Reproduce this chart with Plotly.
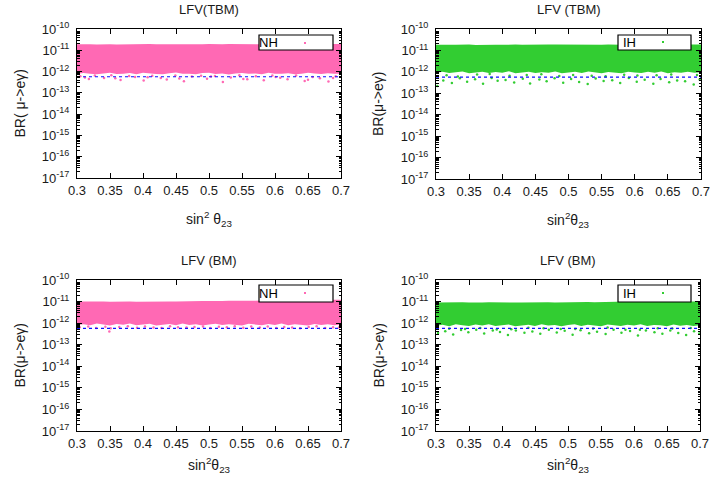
import plotly.graph_objects as go

W, H = 713, 483
FONT = "Liberation Sans, Arial, Helvetica, sans-serif"

# ---------------- data ----------------
X_TICKS = [0.30, 0.35, 0.40, 0.45, 0.50, 0.55, 0.60, 0.65, 0.70]
X_TICK_TEXT = ["0.3", "0.35", "0.4", "0.45", "0.5", "0.55", "0.6", "0.65", "0.7"]
Y_EXPONENTS = [-17, -16, -15, -14, -13, -12, -11, -10]
MEG_BOUND = 5.7e-13

X_GRID = [0.300, 0.310, 0.320, 0.330, 0.340, 0.350, 0.360, 0.370, 0.380, 0.390,
          0.400, 0.410, 0.420, 0.430, 0.440, 0.450, 0.460, 0.470, 0.480, 0.490,
          0.500, 0.510, 0.520, 0.530, 0.540, 0.550, 0.560, 0.570, 0.580, 0.590,
          0.600, 0.610, 0.620, 0.630, 0.640, 0.650, 0.660, 0.670, 0.680, 0.690, 0.700]

# NH, TBM (top left)
NH_TBM_UPPER = [1.90e-11, 1.95e-11, 1.90e-11, 1.88e-11, 1.95e-11, 1.92e-11, 1.86e-11, 1.90e-11, 1.95e-11, 1.90e-11,
                1.88e-11, 1.95e-11, 1.92e-11, 1.90e-11, 1.95e-11, 1.88e-11, 1.90e-11, 1.95e-11, 1.92e-11, 1.90e-11,
                1.95e-11, 1.88e-11, 1.90e-11, 1.95e-11, 1.92e-11, 1.90e-11, 1.95e-11, 1.88e-11, 1.90e-11, 1.95e-11,
                1.92e-11, 1.90e-11, 1.95e-11, 1.88e-11, 1.90e-11, 1.95e-11, 1.92e-11, 1.90e-11, 1.95e-11, 1.90e-11, 1.95e-11]
NH_TBM_LOWER = [7.8e-13, 8.6e-13, 8.0e-13, 7.4e-13, 8.4e-13, 8.9e-13, 7.6e-13, 7.9e-13, 8.5e-13, 7.5e-13,
                8.7e-13, 8.1e-13, 7.7e-13, 7.4e-13, 8.3e-13, 9.0e-13, 7.8e-13, 8.0e-13, 7.5e-13, 8.5e-13,
                8.8e-13, 7.6e-13, 8.1e-13, 7.3e-13, 8.2e-13, 8.6e-13, 7.9e-13, 8.2e-13, 7.5e-13, 8.9e-13,
                8.0e-13, 7.8e-13, 8.4e-13, 7.4e-13, 7.9e-13, 8.7e-13, 8.1e-13, 7.6e-13, 8.3e-13, 7.8e-13, 8.0e-13]
NH_TBM_PTS_X = [0.305, 0.318, 0.327, 0.341, 0.352, 0.366, 0.379, 0.388, 0.401, 0.414, 0.427, 0.436, 0.449, 0.462,
                0.474, 0.488, 0.497, 0.509, 0.521, 0.533, 0.546, 0.558, 0.571, 0.583, 0.596, 0.608, 0.619, 0.632,
                0.645, 0.657, 0.668, 0.681, 0.692, 0.312, 0.358, 0.407, 0.455, 0.503, 0.552, 0.601, 0.650, 0.688]
NH_TBM_PTS_Y = [6.0e-13, 4.5e-13, 6.5e-13, 5.0e-13, 6.8e-13, 4.0e-13, 6.2e-13, 5.5e-13, 3.8e-13, 6.4e-13, 5.0e-13,
                4.2e-13, 6.6e-13, 3.5e-13, 5.8e-13, 6.3e-13, 4.6e-13, 6.2e-13, 3.2e-13, 5.3e-13, 6.7e-13, 4.4e-13,
                6.0e-13, 3.9e-13, 6.5e-13, 5.1e-13, 4.3e-13, 6.6e-13, 3.6e-13, 5.6e-13, 4.8e-13, 3.4e-13, 6.1e-13,
                5.2e-13, 4.9e-13, 5.4e-13, 4.7e-13, 5.9e-13, 4.5e-13, 5.5e-13, 4.1e-13, 5.0e-13]

# IH, TBM (top right)
IH_TBM_UPPER = [1.85e-11, 1.90e-11, 1.85e-11, 1.83e-11, 1.90e-11, 1.87e-11, 1.81e-11, 1.85e-11, 1.90e-11, 1.85e-11,
                1.83e-11, 1.90e-11, 1.87e-11, 1.85e-11, 1.90e-11, 1.83e-11, 1.85e-11, 1.90e-11, 1.87e-11, 1.85e-11,
                1.90e-11, 1.83e-11, 1.85e-11, 1.90e-11, 1.87e-11, 1.85e-11, 1.90e-11, 1.83e-11, 1.85e-11, 1.90e-11,
                1.87e-11, 1.85e-11, 1.90e-11, 1.83e-11, 1.85e-11, 1.90e-11, 1.87e-11, 1.85e-11, 1.90e-11, 1.85e-11, 1.90e-11]
IH_TBM_LOWER = [9.0e-13, 1.00e-12, 8.8e-13, 9.6e-13, 1.05e-12, 8.6e-13, 9.3e-13, 1.02e-12, 8.9e-13, 9.8e-13,
                9.2e-13, 1.06e-12, 8.7e-13, 9.5e-13, 1.01e-12, 8.8e-13, 9.7e-13, 9.0e-13, 1.03e-12, 8.6e-13,
                9.4e-13, 1.00e-12, 8.9e-13, 1.05e-12, 9.2e-13, 8.7e-13, 9.9e-13, 9.5e-13, 8.6e-13, 1.02e-12,
                9.3e-13, 8.8e-13, 1.00e-12, 9.1e-13, 1.04e-12, 8.7e-13, 9.6e-13, 9.0e-13, 1.02e-12, 9.2e-13, 9.6e-13]
IH_TBM_PTS_X = [0.302, 0.311, 0.324, 0.336, 0.347, 0.359, 0.371, 0.384, 0.393, 0.405, 0.418, 0.431, 0.442, 0.456,
                0.467, 0.479, 0.492, 0.504, 0.516, 0.529, 0.541, 0.553, 0.566, 0.578, 0.591, 0.603, 0.615, 0.628,
                0.639, 0.652, 0.664, 0.676, 0.689, 0.698, 0.316, 0.362, 0.411, 0.459, 0.507, 0.556, 0.604, 0.655,
                0.694, 0.333, 0.381, 0.437, 0.486, 0.535, 0.584, 0.633]
IH_TBM_PTS_Y = [2.2e-13, 4.0e-13, 3.0e-13, 5.0e-13, 3.5e-13, 4.5e-13, 2.8e-13, 5.2e-13, 3.8e-13, 4.2e-13, 3.2e-13,
                4.8e-13, 2.9e-13, 4.4e-13, 3.6e-13, 5.0e-13, 3.1e-13, 4.6e-13, 3.4e-13, 2.7e-13, 4.9e-13, 3.7e-13,
                4.1e-13, 3.0e-13, 5.1e-13, 3.5e-13, 4.3e-13, 2.8e-13, 4.7e-13, 3.3e-13, 4.0e-13, 3.6e-13, 2.6e-13,
                4.4e-13, 7.0e-13, 7.5e-13, 6.5e-13, 7.8e-13, 7.2e-13, 6.3e-13, 6.8e-13, 7.6e-13, 7.2e-13, 6.0e-13,
                7.9e-13, 7.1e-13, 6.4e-13, 6.6e-13, 7.4e-13, 6.9e-13]

# NH, BM (bottom left)
NH_BM_UPPER = [1.00e-11, 1.02e-11, 0.98e-11, 1.00e-11, 1.02e-11, 0.98e-11, 1.00e-11, 1.02e-11, 1.00e-11, 0.98e-11,
               1.00e-11, 1.02e-11, 1.00e-11, 1.00e-11, 1.02e-11, 1.00e-11, 1.03e-11, 1.05e-11, 1.03e-11, 1.05e-11,
               1.07e-11, 1.05e-11, 1.07e-11, 1.10e-11, 1.08e-11, 1.10e-11, 1.12e-11, 1.10e-11, 1.12e-11, 1.15e-11,
               1.12e-11, 1.15e-11, 1.17e-11, 1.15e-11, 1.17e-11, 1.20e-11, 1.17e-11, 1.20e-11, 1.20e-11, 1.22e-11, 1.20e-11]
NH_BM_LOWER = [8.2e-13, 9.0e-13, 7.9e-13, 9.5e-13, 8.6e-13, 7.7e-13, 9.2e-13, 8.4e-13, 9.7e-13, 8.0e-13,
               8.8e-13, 9.4e-13, 7.8e-13, 8.5e-13, 9.1e-13, 7.9e-13, 9.6e-13, 8.3e-13, 8.9e-13, 7.7e-13,
               8.7e-13, 9.4e-13, 8.1e-13, 9.0e-13, 8.2e-13, 7.7e-13, 9.3e-13, 8.6e-13, 8.0e-13, 9.1e-13,
               8.3e-13, 9.5e-13, 7.9e-13, 8.8e-13, 8.5e-13, 7.8e-13, 9.2e-13, 8.2e-13, 8.9e-13, 8.0e-13, 8.6e-13]
NH_BM_PTS_X = [0.304, 0.317, 0.329, 0.343, 0.351, 0.364, 0.377, 0.391, 0.403, 0.416, 0.428, 0.441, 0.453, 0.466,
               0.478, 0.491, 0.502, 0.515, 0.527, 0.539, 0.552, 0.564, 0.577, 0.589, 0.602, 0.614, 0.626, 0.638,
               0.651, 0.663, 0.676, 0.688, 0.697, 0.349]
NH_BM_PTS_Y = [6.4e-13, 7.0e-13, 6.0e-13, 6.8e-13, 5.8e-13, 6.6e-13, 7.2e-13, 6.1e-13, 6.9e-13, 6.3e-13, 5.9e-13,
               7.1e-13, 6.5e-13, 6.2e-13, 6.7e-13, 7.0e-13, 6.0e-13, 6.8e-13, 6.4e-13, 7.2e-13, 6.1e-13, 6.9e-13,
               6.3e-13, 7.0e-13, 5.9e-13, 6.6e-13, 6.2e-13, 5.8e-13, 6.7e-13, 7.1e-13, 6.0e-13, 6.5e-13, 6.3e-13,
               4.1e-13]

# IH, BM (bottom right)
IH_BM_UPPER = [0.90e-11, 0.92e-11, 0.88e-11, 0.90e-11, 0.92e-11, 0.90e-11, 0.88e-11, 0.90e-11, 0.92e-11, 0.90e-11,
               0.90e-11, 0.92e-11, 0.90e-11, 0.90e-11, 0.92e-11, 0.90e-11, 0.90e-11, 0.92e-11, 0.90e-11, 0.92e-11,
               0.94e-11, 0.92e-11, 0.94e-11, 0.96e-11, 0.94e-11, 0.96e-11, 0.98e-11, 0.96e-11, 0.98e-11, 1.00e-11,
               0.98e-11, 1.00e-11, 1.00e-11, 0.98e-11, 1.00e-11, 1.02e-11, 1.00e-11, 1.02e-11, 1.00e-11, 1.02e-11, 1.00e-11]
IH_BM_LOWER = [7.6e-13, 8.4e-13, 7.2e-13, 8.8e-13, 8.0e-13, 7.3e-13, 8.6e-13, 7.8e-13, 9.0e-13, 7.4e-13,
               8.2e-13, 8.7e-13, 7.2e-13, 7.9e-13, 8.5e-13, 7.3e-13, 8.9e-13, 7.7e-13, 8.3e-13, 7.1e-13,
               8.1e-13, 8.8e-13, 7.4e-13, 8.4e-13, 7.6e-13, 7.2e-13, 8.7e-13, 7.9e-13, 7.4e-13, 8.5e-13,
               7.8e-13, 8.9e-13, 7.3e-13, 8.2e-13, 7.9e-13, 7.2e-13, 8.6e-13, 7.6e-13, 8.3e-13, 7.3e-13, 8.0e-13]
IH_BM_PTS_X = [0.303, 0.314, 0.326, 0.338, 0.349, 0.361, 0.373, 0.386, 0.397, 0.409, 0.421, 0.434, 0.446, 0.458,
               0.471, 0.483, 0.495, 0.507, 0.519, 0.532, 0.544, 0.557, 0.569, 0.581, 0.594, 0.606, 0.618, 0.631,
               0.643, 0.655, 0.667, 0.679, 0.691, 0.699, 0.320, 0.367, 0.414, 0.463, 0.511, 0.560, 0.609, 0.658,
               0.686, 0.344, 0.392, 0.440, 0.489, 0.538, 0.587, 0.636]
IH_BM_PTS_Y = [3.5e-13, 4.2e-13, 3.0e-13, 4.8e-13, 3.8e-13, 5.0e-13, 3.3e-13, 4.5e-13, 3.9e-13, 2.8e-13, 4.6e-13,
               3.6e-13, 4.1e-13, 3.2e-13, 5.0e-13, 3.7e-13, 4.4e-13, 2.9e-13, 4.7e-13, 3.4e-13, 4.0e-13, 3.1e-13,
               4.9e-13, 3.6e-13, 4.3e-13, 2.7e-13, 4.5e-13, 3.8e-13, 3.2e-13, 4.6e-13, 3.5e-13, 2.8e-13, 4.2e-13,
               3.3e-13, 5.5e-13, 6.0e-13, 5.2e-13, 5.8e-13, 5.4e-13, 6.2e-13, 5.0e-13, 5.6e-13, 5.9e-13, 5.3e-13,
               5.1e-13, 6.1e-13, 5.4e-13, 5.7e-13, 5.0e-13, 5.8e-13]

# ---------------- panel layout (pixels in the 713x483 canvas) ----------------
PINK = "#FF69B4"
GREEN = "#32CD32"

PANELS = [
    dict(label="NH", color=PINK, title="LFV(TBM)", ytitle="BR( μ->eγ)",
         xtitle="sin<sup>2</sup> θ<sub>23</sub>",
         upper=NH_TBM_UPPER, lower=NH_TBM_LOWER, px=NH_TBM_PTS_X, py=NH_TBM_PTS_Y,
         box=(77, 341, 29, 178), title_y=10, xtitle_y=219, ytitle_x=19,
         leg=(259, 333, 35, 50), leg_text_x=257, dot=(305, 43)),
    dict(label="IH", color=GREEN, title="LFV (TBM)", ytitle="BR(μ->eγ)",
         xtitle="sin<sup>2</sup>θ<sub>23</sub>",
         upper=IH_TBM_UPPER, lower=IH_TBM_LOWER, px=IH_TBM_PTS_X, py=IH_TBM_PTS_Y,
         box=(436, 701, 29, 179), title_y=10, xtitle_y=220, ytitle_x=378,
         leg=(618, 691, 35, 50), leg_text_x=621, dot=(663, 42)),
    dict(label="NH", color=PINK, title="LFV (BM)", ytitle="BR(μ->eγ)",
         xtitle="sin<sup>2</sup>θ<sub>23</sub>",
         upper=NH_BM_UPPER, lower=NH_BM_LOWER, px=NH_BM_PTS_X, py=NH_BM_PTS_Y,
         box=(77, 341, 280, 431), title_y=260, xtitle_y=465, ytitle_x=19,
         leg=(259, 333, 285, 302), leg_text_x=257, dot=(305, 293)),
    dict(label="IH", color=GREEN, title="LFV (BM)", ytitle="BR(μ->eγ)",
         xtitle="sin<sup>2</sup>θ<sub>23</sub>",
         upper=IH_BM_UPPER, lower=IH_BM_LOWER, px=IH_BM_PTS_X, py=IH_BM_PTS_Y,
         box=(436, 700, 280, 431), title_y=260, xtitle_y=465, ytitle_x=378,
         leg=(618, 691, 285, 302), leg_text_x=621, dot=(663, 293)),
]


def fx(p):
    return p / W


def fy(p):
    return 1 - p / H


y_tickvals = [10.0 ** e for e in Y_EXPONENTS]
y_ticktext = ["10<sup>%d</sup>" % e for e in Y_EXPONENTS]
y_minor = [k * 10.0 ** e for e in Y_EXPONENTS[:-1] for k in range(2, 10)]

fig = go.Figure()
layout = dict(
    width=W, height=H, autosize=False,
    margin=dict(l=0, r=0, t=0, b=0, autoexpand=False),
    paper_bgcolor="white", plot_bgcolor="white",
    showlegend=False,
    font=dict(family=FONT, size=13, color="#1a1a1a"),
)
shapes = []
annotations = []

for i, p in enumerate(PANELS):
    sfx = "" if i == 0 else str(i + 1)
    xa, ya = "x" + sfx, "y" + sfx
    l, r, t, b = p["box"]
    layout["xaxis" + sfx] = dict(
        domain=[fx(l), fx(r)], anchor=ya, range=[0.3, 0.7], automargin=False,
        tickvals=X_TICKS, ticktext=X_TICK_TEXT, ticks="inside", ticklen=5,
        tickcolor="black", showline=True, linecolor="black", linewidth=1,
        mirror="allticks", showgrid=False, zeroline=False,
        tickfont=dict(size=13, family=FONT, color="#1a1a1a"),
    )
    layout["yaxis" + sfx] = dict(
        domain=[fy(b), fy(t)], anchor=xa, type="log", range=[-17, -10], automargin=False,
        tickvals=y_tickvals, ticktext=y_ticktext, ticks="inside", ticklen=5,
        tickcolor="black", showline=True, linecolor="black", linewidth=1,
        mirror="allticks", showgrid=False, zeroline=False,
        ticklabelstandoff=4,
        minor=dict(tickvals=y_minor, ticks="inside", ticklen=2.5, tickcolor="black", showgrid=False),
        tickfont=dict(size=13, family=FONT, color="#1a1a1a"),
    )
    # dense band of scan points
    fig.add_trace(go.Scatter(
        x=X_GRID + X_GRID[::-1], y=p["upper"] + p["lower"][::-1],
        fill="toself", fillcolor=p["color"], mode="lines", line=dict(width=0, color=p["color"]),
        xaxis=xa, yaxis=ya, hoverinfo="skip"))
    # sparse scan points near the lower edge
    fig.add_trace(go.Scatter(
        x=p["px"], y=p["py"], mode="markers",
        marker=dict(size=2.5, color=p["color"], line=dict(width=0)),
        xaxis=xa, yaxis=ya))
    # MEG bound
    fig.add_trace(go.Scatter(
        x=[X_TICKS[0], X_TICKS[-1]], y=[MEG_BOUND, MEG_BOUND], mode="lines",
        line=dict(color="#1010ff", width=1.2, dash="dot"),
        xaxis=xa, yaxis=ya))

    cx = (l + r) / 2
    annotations.append(dict(text=p["title"], x=fx(cx), y=fy(p["title_y"]), xref="paper", yref="paper",
                            xanchor="center", yanchor="middle", showarrow=False,
                            font=dict(size=13, family=FONT, color="#1a1a1a")))
    annotations.append(dict(text=p["xtitle"], x=fx(cx), y=fy(p["xtitle_y"]), xref="paper", yref="paper",
                            xanchor="center", yanchor="middle", showarrow=False,
                            font=dict(size=14, family=FONT, color="#1a1a1a")))
    annotations.append(dict(text=p["ytitle"], x=fx(p["ytitle_x"]), y=fy((t + b) / 2), xref="paper", yref="paper",
                            xanchor="center", yanchor="middle", showarrow=False, textangle=-90,
                            font=dict(size=14, family=FONT, color="#1a1a1a")))
    # key box
    ll, lr, lt, lb = p["leg"]
    shapes.append(dict(type="rect", xref="paper", yref="paper", x0=fx(ll), x1=fx(lr), y0=fy(lb), y1=fy(lt),
                       fillcolor="white", line=dict(color="black", width=1.2), layer="above"))
    dx, dy = p["dot"]
    shapes.append(dict(type="rect", xref="paper", yref="paper", x0=fx(dx - 1), x1=fx(dx + 1),
                       y0=fy(dy + 1), y1=fy(dy - 1), fillcolor=p["color"], line=dict(width=0), layer="above"))
    annotations.append(dict(text=p["label"], x=fx(p["leg_text_x"]), y=fy((lt + lb) / 2), xref="paper", yref="paper",
                            xanchor="left", yanchor="middle", showarrow=False,
                            font=dict(size=13, family=FONT, color="black")))

layout["shapes"] = shapes
layout["annotations"] = annotations
fig.update_layout(**layout)
fig.write_html("out.html",
               config={"displayModeBar": False},
               post_script="document.body.style.margin='0px';document.body.style.overflow='hidden';")
